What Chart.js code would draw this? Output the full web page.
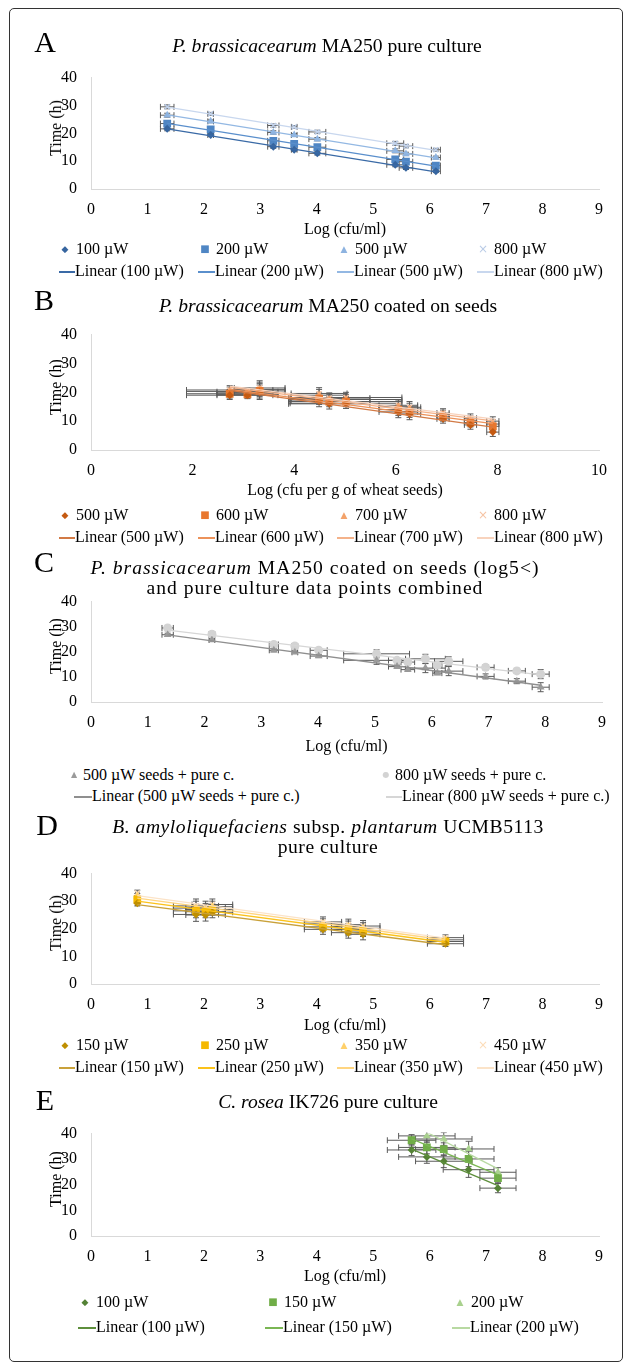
<!DOCTYPE html>
<html>
<head>
<meta charset="utf-8">
<script src="https://cdn.jsdelivr.net/npm/chart.js@4.4.0/dist/chart.umd.min.js"></script>
<style>
body { margin: 0; background: #fff; }
#fig { position: relative; width: 627px; height: 1364px; background: #fff; overflow: hidden;
       font-family: "Liberation Serif", "Times New Roman", serif; color: #000; }
.frame { position: absolute; left: 9px; top: 8px; width: 614px; height: 1354px; box-sizing: border-box;
         border: 1.5px solid #333; border-radius: 5px; }
.lbl { position: absolute; white-space: nowrap; transform: translate(-50%, -50%); text-align: center; }
.letter { font-size: 30px; }
.ttl { font-size: 19.6px; line-height: 20px; }
.ax { font-size: 16px; }
.ytl { font-size: 16px; transform: translate(-50%, -50%) rotate(-90deg); }
.leg { position: absolute; font-size: 16px; white-space: nowrap; transform: translateY(-50%); }
.mk { position: absolute; transform: translate(-50%, -50%); font-family: "DejaVu Sans", sans-serif; line-height: 1; }
.ln { position: absolute; height: 1.5px; }
canvas { position: absolute; left: 0; }
</style>
</head>
<body>
<div id="fig"><div class="frame"></div></div>
<script>
// ---- A: P. brassicacearum pure culture
const xA = [1.35, 2.12, 3.23, 3.60, 4.01, 5.39, 5.58, 6.11];
const xErrA = [0.12, 0.05, 0.10, 0.05, 0.15, 0.15, 0.12, 0.08];
const yErrA = [0.7, 0.5, 0.6, 0.5, 0.6, 0.7, 0.6, 0.5];
const yA100 = [21.6, 19.4, 15.2, 14.1, 12.8, 8.7, 7.6, 6.4];
const yA200 = [23.5, 21.4, 17.3, 16.2, 15.0, 10.6, 9.8, 8.4];
const yA500 = [26.5, 24.3, 20.3, 19.4, 17.9, 13.7, 12.6, 11.3];
const yA800 = [29.5, 27.0, 22.8, 22.3, 20.5, 16.4, 15.4, 14.1];

// ---- B: coated on seeds
const xB = [2.73, 3.08, 3.32, 4.49, 4.69, 5.02, 6.05, 6.27, 6.93, 7.47, 7.91];
const xErrB = [0.85, 0.6, 0.5, 0.55, 0.8, 1.1, 0.38, 0.22, 0.12, 0.12, 0.12];
const yErrB = [1.5, 1.2, 2.5, 2.0, 1.8, 1.8, 2.0, 2.0, 1.5, 1.5, 1.5];
const yB500 = [19.0, 19.0, 20.0, 17.0, 16.0, 16.2, 13.2, 12.5, 10.8, 8.7, 6.2];
const yB600 = [19.5, 19.3, 20.5, 17.8, 16.8, 16.8, 14.0, 13.3, 11.5, 9.5, 8.2];
const yB700 = [20.3, 19.8, 21.0, 19.0, 17.5, 17.5, 15.0, 14.2, 12.3, 10.3, 9.0];
const yB800 = [20.8, 20.2, 21.5, 19.6, 18.0, 18.2, 15.5, 14.8, 12.8, 11.0, 10.0];

// ---- C: seeds (log5<) + pure culture combined
const xC = [1.35, 2.13, 3.22, 3.59, 4.01, 5.03, 5.39, 5.58, 5.89, 6.10, 6.30, 6.95, 7.50, 7.92];
const xErrC = [0.1, 0.05, 0.08, 0.05, 0.15, 0.58, 0.15, 0.12, 0.35, 0.08, 0.25, 0.15, 0.15, 0.15];
const yErrC = [0.6, 0.5, 0.6, 0.5, 0.6, 1.6, 0.6, 0.6, 1.8, 0.6, 1.8, 1.0, 1.0, 1.8];
const yC500 = [26.8, 24.7, 20.6, 19.8, 18.3, 16.6, 14.1, 12.9, 13.5, 11.5, 12.3, 10.2, 8.3, 5.9];
const yC800 = [29.5, 27.0, 22.9, 22.3, 20.6, 19.2, 16.6, 15.9, 17.2, 14.6, 16.2, 13.8, 12.4, 11.1];

// ---- D: B. amyloliquefaciens
const xD = [0.82, 1.86, 2.03, 2.15, 4.11, 4.56, 4.82, 6.28];
const xErrD = [0.03, 0.4, 0.35, 0.36, 0.33, 0.3, 0.3, 0.32];
const yErrD = [1.0, 2.5, 2.2, 2.0, 1.8, 2.0, 2.0, 1.0];
const yD150 = [29.3, 25.2, 25.0, 26.0, 19.8, 18.6, 18.0, 14.6];
const yD250 = [30.7, 26.5, 26.2, 27.0, 20.7, 19.8, 19.2, 15.4];
const yD350 = [31.8, 27.5, 27.0, 28.0, 21.8, 20.8, 20.2, 16.0];
const yD450 = [33.0, 28.3, 27.8, 28.8, 22.5, 21.5, 21.0, 16.8];

// ---- E: C. rosea
const xE = [5.68, 5.95, 6.25, 6.69, 7.21];
const xErrE = [0.43, 0.5, 0.5, 0.45, 0.32];
const yErrE = [2.2, 2.5, 2.5, 3.0, 1.8];
const yE100 = [33.6, 30.9, 29.2, 25.9, 18.7];
const yE150 = [37.4, 34.6, 33.9, 30.1, 22.6];
const yE200 = [null, 39.1, 37.9, 34.0, 24.9];

const fig = document.getElementById("fig");
const FONT = "Liberation Serif";

function addText(x, y, html, cls, spacing) {
    const d = document.createElement("div");
    d.className = "lbl " + cls;
    d.style.left = x + "px";
    d.style.top = y + "px";
    if (spacing) d.style.letterSpacing = spacing + "px";
    d.innerHTML = html;
    fig.appendChild(d);
}

// error bars drawn under the markers
const errorBars = {
    id: "errorBars",
    beforeDatasetsDraw(chart) {
        const { ctx, chartArea, scales: { x, y } } = chart;
        ctx.save();
        ctx.beginPath();
        ctx.rect(chartArea.left, chartArea.top - 1, chartArea.right - chartArea.left, chartArea.bottom - chartArea.top + 1);
        ctx.clip();
        ctx.strokeStyle = "#5a5a5a";
        ctx.lineWidth = 1;
        chart.data.datasets.forEach(ds => {
            if (!ds.errBars) return;
            ds.data.forEach(d => {
                const px = x.getPixelForValue(d.x), py = y.getPixelForValue(d.y);
                const x1 = x.getPixelForValue(d.x - d.xe), x2 = x.getPixelForValue(d.x + d.xe);
                const y1 = y.getPixelForValue(d.y - d.ye), y2 = y.getPixelForValue(d.y + d.ye);
                ctx.beginPath();
                ctx.moveTo(x1, py); ctx.lineTo(x2, py);
                ctx.moveTo(x1, py - 3); ctx.lineTo(x1, py + 3);
                ctx.moveTo(x2, py - 3); ctx.lineTo(x2, py + 3);
                ctx.moveTo(px, y1); ctx.lineTo(px, y2);
                ctx.moveTo(px - 3, y1); ctx.lineTo(px + 3, y1);
                ctx.moveTo(px - 3, y2); ctx.lineTo(px + 3, y2);
                ctx.stroke();
            });
        });
        ctx.restore();
    }
};

function linearFit(pts) {
    const n = pts.length;
    let sx = 0, sy = 0, sxx = 0, sxy = 0;
    pts.forEach(p => { sx += p.x; sy += p.y; sxx += p.x * p.x; sxy += p.x * p.y; });
    const b = (n * sxy - sx * sy) / (n * sxx - sx * sx);
    const a = (sy - b * sx) / n;
    const xs = pts.map(p => p.x);
    const lo = Math.min(...xs), hi = Math.max(...xs);
    return [{ x: lo, y: a + b * lo }, { x: hi, y: a + b * hi }];
}

function buildPanel(p) {
    const padTop = 12, axisH = 40;
    const h = p.bottom - p.top + padTop + axisH;
    const canvas = document.createElement("canvas");
    canvas.width = 627; canvas.height = h;
    canvas.style.top = (p.top - padTop) + "px";
    fig.appendChild(canvas);

    const datasets = [];
    p.series.forEach(s => {
        const pts = [];
        p.x.forEach((x, i) => {
            if (s.y[i] == null) return;
            pts.push({ x: x, y: s.y[i], xe: p.xErr[i], ye: p.yErr[i] });
        });
        datasets.push({
            label: s.name, data: pts, errBars: true, order: 2,
            pointStyle: s.style, pointRadius: s.r, pointHoverRadius: s.r,
            backgroundColor: s.color, borderColor: s.color,
            borderWidth: s.style === "crossRot" ? 1.5 : 0
        });
        datasets.push({
            label: "Linear (" + s.name + ")", data: linearFit(pts), showLine: true, order: 1,
            pointRadius: 0, borderColor: s.line, borderWidth: 1.3
        });
    });

    new Chart(canvas, {
        type: "scatter",
        data: { datasets: datasets },
        plugins: [errorBars],
        options: {
            responsive: false, animation: false, devicePixelRatio: 1,
            layout: { padding: { left: 0, right: 627 - p.right, top: padTop, bottom: 0 } },
            plugins: { legend: { display: false }, tooltip: { enabled: false } },
            scales: {
                x: {
                    type: "linear", min: 0, max: p.xmax,
                    ticks: { stepSize: p.xstep, color: "#000", padding: 11, maxRotation: 0, font: { family: FONT, size: 16 } },
                    grid: { display: false, drawTicks: false },
                    border: { color: "#d9d9d9", width: 1 },
                    afterFit(s) { s.height = axisH; }
                },
                y: {
                    min: 0, max: 40,
                    ticks: { stepSize: 10, color: "#000", padding: 14, font: { family: FONT, size: 16 } },
                    grid: { display: false, drawTicks: false },
                    border: { color: "#d9d9d9", width: 1 },
                    afterFit(s) { s.width = 91; }
                }
            }
        }
    });

    // letter, title, axis titles
    addText(p.letter[0], p.letter[1], p.letter[2], "letter");
    addText(p.titleX, p.titleY, p.title, "ttl", p.titleSpacing);
    addText(56, (p.top + p.bottom) / 2, "Time (h)", "ytl");
    addText((91 + p.right) / 2, p.xTitleY, p.xTitle, "ax");

    // legend
    p.series.forEach((s, i) => {
        const c = p.legCols[i];
        const mk = document.createElement("div");
        mk.className = "mk";
        mk.style.left = c.mk + "px"; mk.style.top = p.legY[0] + "px";
        mk.style.color = s.color; mk.style.fontSize = s.symSize + "px";
        mk.textContent = s.sym;
        fig.appendChild(mk);
        const t1 = document.createElement("div");
        t1.className = "leg";
        t1.style.left = c.tx + "px"; t1.style.top = p.legY[0] + "px";
        t1.textContent = s.name;
        fig.appendChild(t1);
        const ln = document.createElement("div");
        ln.className = "ln";
        ln.style.left = c.l0 + "px"; ln.style.width = (c.l1 - c.l0) + "px";
        ln.style.top = p.legY[1] + "px"; ln.style.background = s.line;
        fig.appendChild(ln);
        const t2 = document.createElement("div");
        t2.className = "leg";
        t2.style.left = c.l1 + "px"; t2.style.top = p.legY[1] + "px";
        t2.textContent = "Linear (" + s.name + ")";
        fig.appendChild(t2);
    });
}

const col4 = [
    { mk: 65, tx: 76, l0: 59, l1: 75 },
    { mk: 205, tx: 216, l0: 198, l1: 215 },
    { mk: 344, tx: 355, l0: 337, l1: 354 },
    { mk: 483, tx: 494, l0: 477, l1: 494 }
];

buildPanel({
    letter: [45, 42, "A"], titleX: 327, titleY: 46,
    title: "<i>P. brassicacearum</i> MA250 pure culture",
    top: 66, bottom: 189, right: 599, xmax: 9, xstep: 1, xTitle: "Log (cfu/ml)", xTitleY: 229,
    x: xA, xErr: xErrA, yErr: yErrA,
    legY: [249, 271], legCols: col4,
    series: [
        { name: "100 µW", y: yA100, style: "rectRot", r: 4, color: "#36659f", line: "#3a6aa6", sym: "◆", symSize: 9 },
        { name: "200 µW", y: yA200, style: "rect", r: 5.5, color: "#4f86c4", line: "#5a8fcc", sym: "■", symSize: 10 },
        { name: "500 µW", y: yA500, style: "triangle", r: 4.5, color: "#8db3e0", line: "#93b8e3", sym: "▲", symSize: 9 },
        { name: "800 µW", y: yA800, style: "crossRot", r: 3.5, color: "#b9cbe6", line: "#c8d7ee", sym: "×", symSize: 12 }
    ]
});

buildPanel({
    letter: [44, 300, "B"], titleX: 328, titleY: 306,
    title: "<i>P. brassicacearum</i> MA250 coated on seeds",
    top: 323, bottom: 450, right: 599, xmax: 10, xstep: 2, xTitle: "Log (cfu per g of wheat seeds)", xTitleY: 490,
    x: xB, xErr: xErrB, yErr: yErrB,
    legY: [515, 537], legCols: col4,
    series: [
        { name: "500 µW", y: yB500, style: "rectRot", r: 4, color: "#c55a11", line: "#d27a45", sym: "◆", symSize: 9 },
        { name: "600 µW", y: yB600, style: "rect", r: 5.5, color: "#e8772e", line: "#ec925a", sym: "■", symSize: 10 },
        { name: "700 µW", y: yB700, style: "triangle", r: 4.5, color: "#f3a26a", line: "#f4b28a", sym: "▲", symSize: 9 },
        { name: "800 µW", y: yB800, style: "crossRot", r: 3.5, color: "#f6c3a3", line: "#f8d3bd", sym: "×", symSize: 12 }
    ]
});

buildPanel({
    letter: [44, 562, "C"], titleX: 315, titleY: 578, titleSpacing: 1,
    title: "<i>P. brassicacearum</i> MA250 coated on seeds (log5&lt;)<br>and pure culture data points combined",
    top: 590, bottom: 702, right: 602, xmax: 9, xstep: 1, xTitle: "Log (cfu/ml)", xTitleY: 746,
    x: xC, xErr: xErrC, yErr: yErrC,
    legY: [775, 796],
    legCols: [
        { mk: 74, tx: 83, l0: 74, l1: 92 },
        { mk: 386, tx: 395, l0: 386, l1: 402 }
    ],
    series: [
        { name: "500 µW seeds + pure c.", y: yC500, style: "triangle", r: 4.5, color: "#9a9a9a", line: "#8f8f8f", sym: "▲", symSize: 8 },
        { name: "800 µW seeds + pure c.", y: yC800, style: "circle", r: 4.5, color: "#d3d3d3", line: "#d6d6d6", sym: "●", symSize: 8 }
    ]
});

buildPanel({
    letter: [47, 825, "D"], titleX: 328, titleY: 837, titleSpacing: 0.55,
    title: "<i>B. amyloliquefaciens</i> subsp. <i>plantarum</i> UCMB5113<br>pure culture",
    top: 862, bottom: 984, right: 599, xmax: 9, xstep: 1, xTitle: "Log (cfu/ml)", xTitleY: 1025,
    x: xD, xErr: xErrD, yErr: yErrD,
    legY: [1045, 1067], legCols: col4,
    series: [
        { name: "150 µW", y: yD150, style: "rectRot", r: 4, color: "#bf8f00", line: "#c9a13a", sym: "◆", symSize: 9 },
        { name: "250 µW", y: yD250, style: "rect", r: 5.5, color: "#f5b800", line: "#fbc21a", sym: "■", symSize: 10 },
        { name: "350 µW", y: yD350, style: "triangle", r: 4.5, color: "#ffd06a", line: "#ffd580", sym: "▲", symSize: 9 },
        { name: "450 µW", y: yD450, style: "crossRot", r: 3.5, color: "#fcdcb8", line: "#fbe3c8", sym: "×", symSize: 12 }
    ]
});

buildPanel({
    letter: [45, 1100, "E"], titleX: 328, titleY: 1102,
    title: "<i>C. rosea</i> IK726 pure culture",
    top: 1122, bottom: 1236, right: 599, xmax: 9, xstep: 1, xTitle: "Log (cfu/ml)", xTitleY: 1276,
    x: xE, xErr: xErrE, yErr: yErrE,
    legY: [1302, 1327],
    legCols: [
        { mk: 85, tx: 96, l0: 78, l1: 96 },
        { mk: 273, tx: 284, l0: 265, l1: 283 },
        { mk: 460, tx: 471, l0: 452, l1: 470 }
    ],
    series: [
        { name: "100 µW", y: yE100, style: "rectRot", r: 4, color: "#548235", line: "#5e8f3c", sym: "◆", symSize: 9 },
        { name: "150 µW", y: yE150, style: "rect", r: 5.5, color: "#70ad47", line: "#7ab653", sym: "■", symSize: 10 },
        { name: "200 µW", y: yE200, style: "triangle", r: 4.5, color: "#a9d18e", line: "#b8d9a2", sym: "▲", symSize: 9 }
    ]
});
</script>
</body>
</html>
